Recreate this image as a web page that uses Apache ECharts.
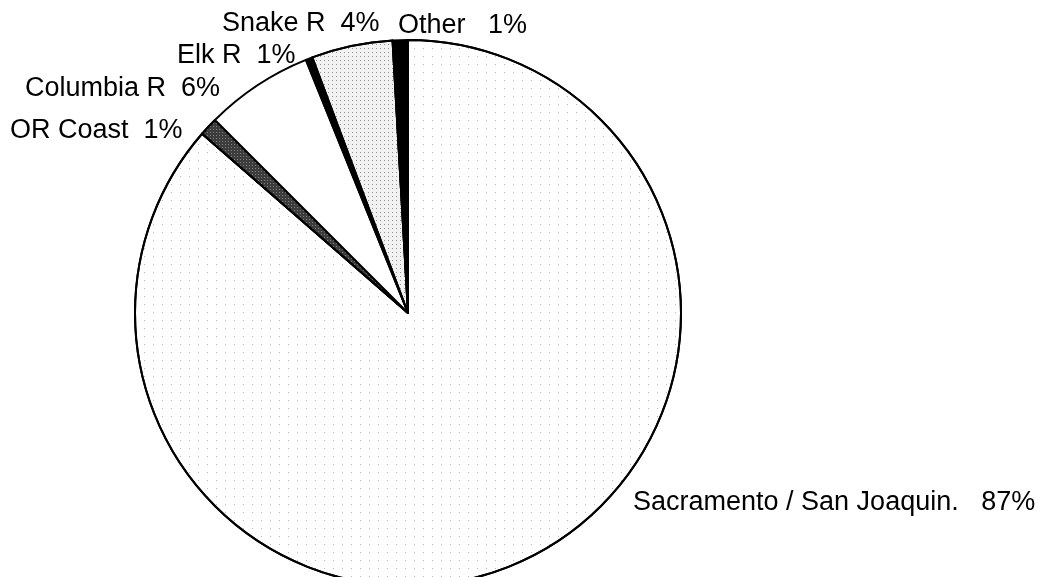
<!DOCTYPE html>
<html>
<head>
<meta charset="utf-8">
<script src="https://cdn.jsdelivr.net/npm/echarts@6/dist/echarts.min.js"></script>
<style>
html,body{margin:0;padding:0;background:#fff;}
#c{width:1049px;height:577px;}
</style>
</head>
<body>
<div id="c"></div>
<script>
const categories = ["Sacramento / San Joaquin.", "OR Coast", "Columbia R", "Elk R", "Snake R", "Other"];
const shares = [86.4, 1.1, 6.4, 0.4, 4.8, 0.9];
const pctLabels = ["87%", "1%", "6%", "1%", "4%", "1%"];
const gaps = ["   ", "  ", "  ", "  ", "  ", "   "];

// Layout / style (kept separate from data)
const labelPos = [[633, 503], [10, 131], [25, 89], [177, 56], [222, 24], [398, 26]];
const fills = ["#ffffff", "#3c3c3c", "#ffffff", "#000000", "#f2f2f2", "#000000"];
const decals = [
  {symbol: 'rect', symbolSize: 1, dashArrayX: [1, 8], dashArrayY: [1, 7], color: 'rgba(0,0,0,0.28)'},
  {symbol: 'rect', symbolSize: 1, dashArrayX: [1, 2], dashArrayY: [1, 2], color: 'rgba(255,255,255,0.35)'},
  null,
  null,
  {symbol: 'rect', symbolSize: 1, dashArrayX: [1, 3], dashArrayY: [1, 3], color: 'rgba(0,0,0,0.4)'},
  null
];

const data = categories.map((n, i) => {
  const it = {name: n, value: shares[i], itemStyle: {color: fills[i]}};
  if (decals[i]) it.itemStyle.decal = decals[i];
  return it;
});

const chart = echarts.init(document.getElementById('c'), null, {renderer: 'canvas'});
chart.setOption({
  backgroundColor: '#ffffff',
  animation: false,
  series: [{
    type: 'pie',
    center: [408, 313],
    radius: 273,
    startAngle: 90,
    clockwise: true,
    avoidLabelOverlap: false,
    data: data,
    itemStyle: {borderColor: '#000', borderWidth: 2},
    label: {
      show: true,
      position: 'outside',
      color: '#000',
      fontFamily: 'Liberation Sans, Arial, sans-serif',
      fontSize: 27,
      formatter: p => categories[p.dataIndex] + gaps[p.dataIndex] + pctLabels[p.dataIndex]
    },
    labelLine: {show: false},
    labelLayout: function (params) {
      const pos = labelPos[params.dataIndex];
      return {x: pos[0], y: pos[1], align: 'left', verticalAlign: 'middle', hideOverlap: false};
    },
    emphasis: {disabled: true}
  }]
});
</script>
</body>
</html>
